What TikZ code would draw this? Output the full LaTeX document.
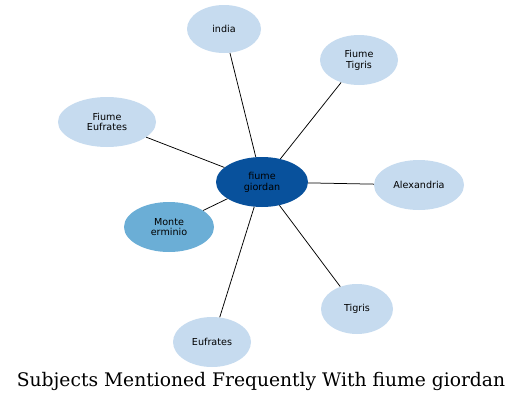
\documentclass[tikz,border=0pt]{standalone}
\usepackage{fontspec}
\newfontfamily\nodefont{DejaVu Sans}
\newfontfamily\titlefont{DejaVu Serif}
\usetikzlibrary{shapes.geometric}
\definecolor{light}{HTML}{C6DBEF}
\definecolor{mid}{HTML}{6BAED6}
\definecolor{dark}{HTML}{08519C}
\tikzset{
  bub/.style={ellipse, fill=light, draw=none, inner sep=0pt, align=center,
    font=\nodefont\fontsize{9.6}{10.8}\selectfont},
  link/.style={draw=black, line width=0.75pt}
}
\begin{document}
\begin{tikzpicture}[x=1pt,y=-1pt]
\useasboundingbox (0,0) rectangle (523,402);
\node[bub, fill=dark, minimum width=92pt, minimum height=50pt] (c) at (262,182) {fiume\\giordan};
\node[bub, minimum width=74pt, minimum height=48pt] (india) at (224,29) {india};
\node[bub, minimum width=78pt, minimum height=50pt] (ft) at (359,60) {Fiume\\Tigris};
\node[bub, minimum width=98pt, minimum height=50pt] (fe) at (107,122) {Fiume\\Eufrates};
\node[bub, minimum width=90pt, minimum height=50pt] (alex) at (419,185) {Alexandria};
\node[bub, fill=mid, minimum width=90pt, minimum height=50pt] (me) at (169,227) {Monte\\erminio};
\node[bub, minimum width=72pt, minimum height=50pt] (tig) at (357,309) {Tigris};
\node[bub, minimum width=78pt, minimum height=50pt] (euf) at (212,342) {Eufrates};
\draw[link] (c) -- (india);
\draw[link] (c) -- (ft);
\draw[link] (c) -- (fe);
\draw[link] (c) -- (alex);
\draw[link] (c) -- (me);
\draw[link] (c) -- (tig);
\draw[link] (c) -- (euf);
\node[font=\titlefont\fontsize{18.7}{22}\selectfont, inner sep=0pt] (title) at (261,381) {Subjects Mentioned Frequently With fiume giordan};
\end{tikzpicture}
\end{document}
